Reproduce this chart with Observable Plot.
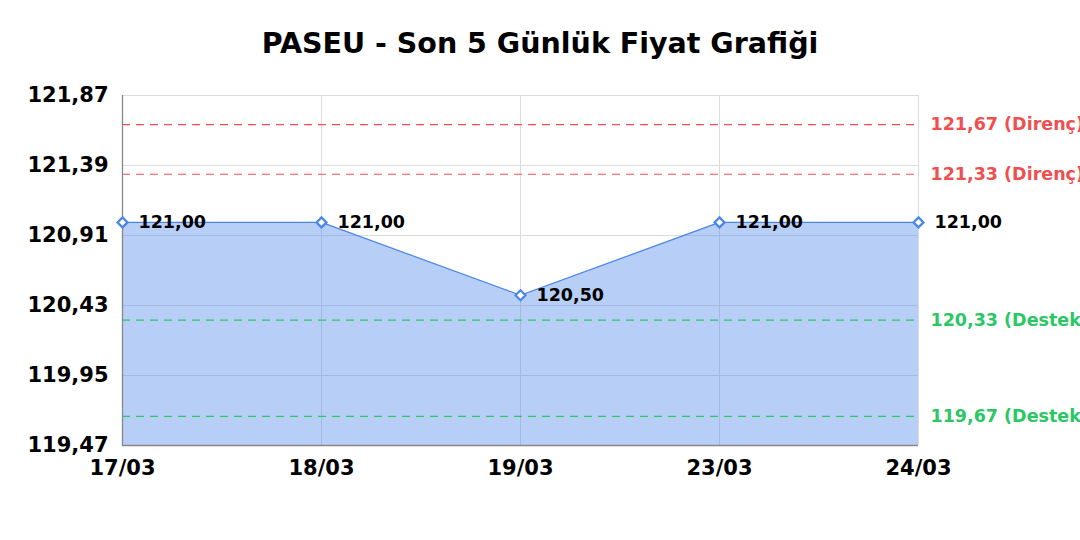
<!DOCTYPE html>
<html>
<head>
<meta charset="utf-8">
<script src="https://cdn.jsdelivr.net/npm/d3@7"></script>
<script src="https://cdn.jsdelivr.net/npm/@observablehq/plot@0.6"></script>
<style>
  html, body { margin: 0; padding: 0; background: white; overflow: hidden; }
  #title { font-family: "DejaVu Sans", sans-serif; font-weight: bold; font-size: 28.5px; line-height: 34px; padding-top: 27px; height: 53px; text-align: center; color: #000; width: 1080px; }
  svg { overflow: visible; }
</style>
</head>
<body>
<div id="title">PASEU - Son 5 Günlük Fiyat Grafiği</div>
<div id="chart"></div>
<script>
const dates = ["17/03", "18/03", "19/03", "23/03", "24/03"];
const prices = [121.00, 121.00, 120.50, 121.00, 121.00];
const yTicks = [119.47, 119.95, 120.43, 120.91, 121.39, 121.87];
const resistance = [121.67, 121.33];
const support = [120.33, 119.67];

const fmt = d => d.toFixed(2).replace(".", ",");
const data = dates.map((d, i) => ({date: d, price: prices[i]}));
const yMin = yTicks[0], yMax = yTicks[yTicks.length - 1];
const lastDate = dates[dates.length - 1];
const blue = "#4a86e8", red = "#ef4f4f", green = "#2bc766";

const chart = Plot.plot({
  width: 1080,
  height: 460,
  marginTop: 15,
  marginBottom: 95,
  marginLeft: 122,
  marginRight: 162,
  style: {fontFamily: "DejaVu Sans", fontWeight: "bold", background: "white", color: "#000", overflow: "visible"},
  x: {type: "point", domain: dates, padding: 0},
  y: {domain: [yMin, yMax]},
  marks: [
    Plot.gridX(dates, {stroke: "#dcdcdc", strokeOpacity: 1}),
    Plot.gridY(yTicks, {stroke: "#dcdcdc", strokeOpacity: 1}),
    Plot.areaY(data, {x: "date", y1: yMin, y2: "price", fill: blue, fillOpacity: 0.4}),
    Plot.lineY(data, {x: "date", y: "price", stroke: blue, strokeWidth: 1.2}),
    Plot.ruleY(resistance, {stroke: red, strokeDasharray: "8,6", strokeWidth: 1.2}),
    Plot.ruleY(support, {stroke: green, strokeDasharray: "8,6", strokeWidth: 1.2}),
    Plot.ruleX([dates[0]], {stroke: "#888", strokeWidth: 1.3}),
    Plot.ruleY([yMin], {stroke: "#888", strokeWidth: 1.3}),
    Plot.dot(data, {x: "date", y: "price", symbol: "diamond2", r: 4.5, fill: "white", stroke: blue, strokeWidth: 2.2}),
    Plot.text(data, {x: "date", y: "price", text: d => fmt(d.price), dx: 16, textAnchor: "start", fontSize: 17.5, fill: "#000"}),
    Plot.text(resistance, {x: () => lastDate, y: d => d, text: d => fmt(d) + " (Direnç)", dx: 12, textAnchor: "start", fontSize: 17.5, fill: red}),
    Plot.text(support, {x: () => lastDate, y: d => d, text: d => fmt(d) + " (Destek)", dx: 12, textAnchor: "start", fontSize: 17.5, fill: green}),
    Plot.axisY(yTicks, {tickSize: 0, tickPadding: 14, fontSize: 21, tickFormat: fmt, label: null}),
    Plot.axisX(dates, {tickSize: 0, tickPadding: 15, fontSize: 21, label: null})
  ]
});
document.getElementById("chart").appendChild(chart);
</script>
</body>
</html>
